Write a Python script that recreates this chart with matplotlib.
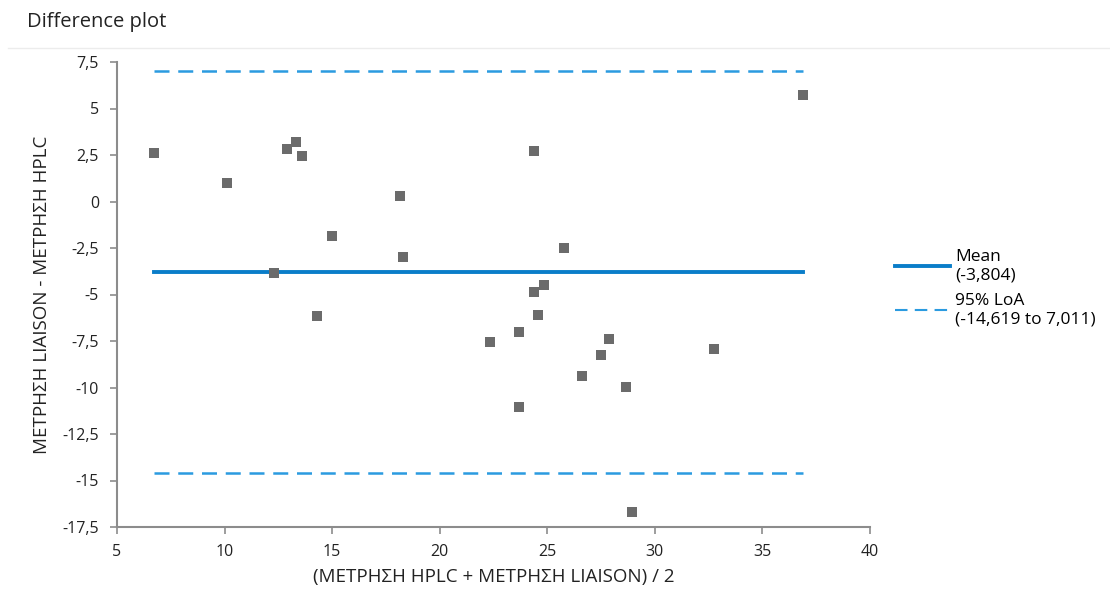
import matplotlib
matplotlib.use("Agg")
import matplotlib.pyplot as plt
from matplotlib.ticker import FuncFormatter, MultipleLocator
from matplotlib.lines import Line2D

# average of the two methods (x) and their difference (y)
avg = [6.7, 10.1, 12.9, 13.3, 13.6, 12.3, 15.0, 18.15, 18.3, 36.87,
       24.4, 25.8, 24.85, 24.4, 14.3, 24.55, 23.7, 22.35, 27.85, 27.5,
       32.75, 26.6, 28.65, 23.7, 28.95]
diff = [2.6, 1.0, 2.82, 3.2, 2.42, -3.87, -1.85, 0.28, -3.01, 5.7,
        2.71, -2.51, -4.47, -4.85, -6.13, -6.11, -6.99, -7.56, -7.38, -8.25,
        -7.93, -9.39, -9.98, -11.07, -16.7]

mean_diff = -3.804
loa_low = -14.619
loa_high = 7.011

plt.rcParams['font.family'] = ['Open Sans', 'DejaVu Sans']

fig = plt.figure(figsize=(11.1, 5.92), dpi=100)
ax = fig.add_axes([117 / 1110, 1 - 527 / 592, (870 - 117) / 1110, (527 - 62) / 592])

blue_dark = '#0a7dc9'
blue_light = '#2b9be0'
txt = '#222222'

x0, x1 = min(avg), max(avg)
ax.plot([x0, x1], [loa_high, loa_high], color=blue_light, lw=1.8, dashes=(6, 3.5))
ax.plot([x0, x1], [loa_low, loa_low], color=blue_light, lw=1.8, dashes=(6, 3.5))
ax.plot([x0, x1], [mean_diff, mean_diff], color=blue_dark, lw=2.8)
ax.scatter(avg, diff, marker='s', s=48, color='#6b6b6b', zorder=3, linewidths=0)

ax.set_xlim(5, 40)
ax.set_ylim(-17.5, 7.5)
ax.xaxis.set_major_locator(MultipleLocator(5))
ax.yaxis.set_major_locator(MultipleLocator(2.5))
fmt = FuncFormatter(lambda v, p: ('%g' % v).replace('.', ','))
ax.xaxis.set_major_formatter(fmt)
ax.yaxis.set_major_formatter(fmt)

for s in ['top', 'right']:
    ax.spines[s].set_visible(False)
for s in ['left', 'bottom']:
    ax.spines[s].set_color('#8c8c8c')
    ax.spines[s].set_linewidth(1.5)
ax.tick_params(colors='#8c8c8c', labelcolor=txt, labelsize=11.5, length=5, width=1.2)
ax.tick_params(axis='y', pad=8)
ax.tick_params(axis='x', pad=7)

ax.set_xlabel('(ΜΕΤΡΗΣΗ HPLC + ΜΕΤΡΗΣΗ LIAISON) / 2', fontsize=13.5, color=txt, labelpad=6)
ax.set_ylabel('ΜΕΤΡΗΣΗ LIAISON - ΜΕΤΡΗΣΗ HPLC', fontsize=13.5, color=txt, labelpad=8)

fig.text(27 / 1110, 1 - 22 / 592, 'Difference plot', fontsize=14.5, color=txt, va='center')
fig.add_artist(Line2D([8 / 1110, 1], [1 - 48 / 592, 1 - 48 / 592], color='#ececec', lw=1))

handles = [Line2D([], [], color=blue_dark, lw=2.8),
           Line2D([], [], color=blue_light, lw=1.5, dashes=(6, 3.5))]
labels = ['Mean\n(-3,804)', '95% LoA\n(-14,619 to 7,011)']
fig.legend(handles, labels, loc='upper left', bbox_to_anchor=(886 / 1110, 1 - 240 / 592),
           frameon=False, fontsize=12.5, handlelength=3.2, handletextpad=0.3,
           labelspacing=0.55, borderpad=0)

fig.savefig('out.png', dpi=100)
